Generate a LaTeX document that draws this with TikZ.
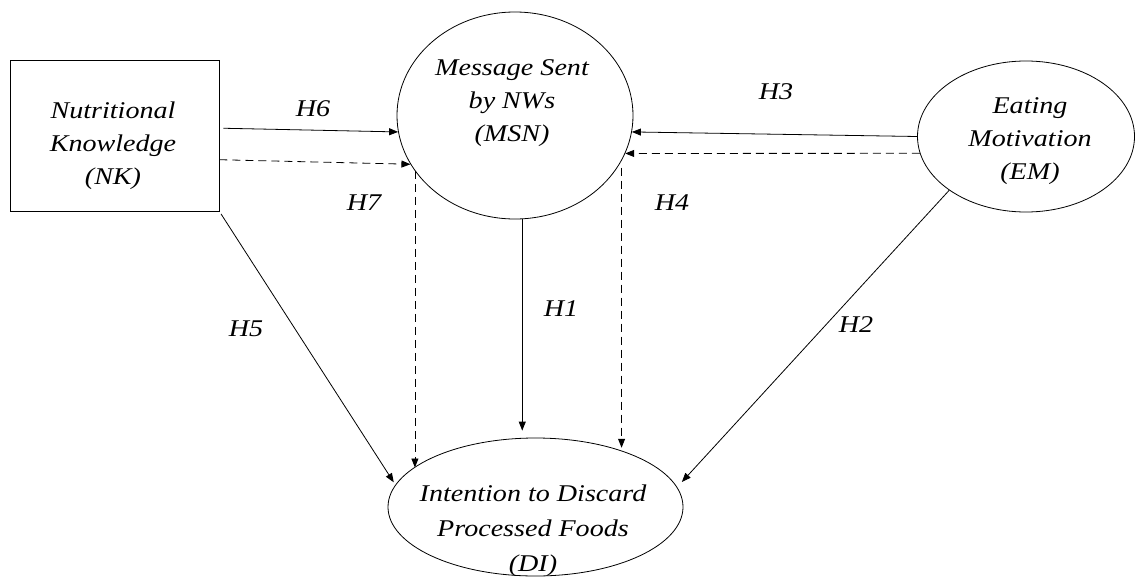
\documentclass[tikz,border=0pt]{standalone}
\usepackage{fontspec}
\setmainfont{Liberation Serif}[FakeStretch=1.17]
\usetikzlibrary{arrows.meta,shapes.geometric}

\begin{document}
\begin{tikzpicture}[x=1pt,y=-1pt,
    line width=0.8pt,
    box/.style={draw,rectangle,inner sep=0pt},
    oval/.style={draw,ellipse,inner sep=0pt},
    txt/.style={align=center,font=\itshape\fontsize{24}{33}\selectfont},
    hyp/.style={font=\itshape\fontsize{24}{29}\selectfont},
    arr/.style={-{Triangle[length=9pt,width=7pt]}},
    dsh/.style={arr,dash pattern=on 8pt off 5pt}]
    \useasboundingbox (0,0) rectangle (1135,576);

    % The four constructs: NK is a box, the others are ovals
    \node[box,minimum width=209pt,minimum height=151pt] (nk) at (114.5,135.5) {};
    \node[oval,minimum width=236pt,minimum height=207pt] (msn) at (515,115.5) {};
    \node[oval,minimum width=217pt,minimum height=151pt] (em) at (1026,136.5) {};
    \node[oval,minimum width=295pt,minimum height=138pt] (di) at (535.5,507) {};

    % Their texts, a little off the centre of each shape
    \node[txt] (nktxt) at (113,146) {Nutritional\\Knowledge\\(NK)};
    \node[txt] (msntxt) at (512,103) {Message Sent\\by NWs\\(MSN)};
    \node[txt] (emtxt) at (1030,141) {Eating\\Motivation\\(EM)};
    \node[txt,font=\itshape\fontsize{24}{35}\selectfont] (ditxt) at (533,531)
        {Intention to Discard\\Processed Foods\\(DI)};

    % Direct paths (solid)
    \draw[arr,shorten <=4pt] (nk.4) -- (msn.188);
    \draw[arr] (em.west) -- (msn.-8);
    \draw[arr,shorten >=7pt] (msn.-86) -- (msn.-86 |- di.north);
    \draw[arr,shorten >=7pt] (em.215) -- (di.8);
    \draw[arr,shorten <=3pt,shorten >=3pt] (nk.south east) -- (di.171);

    % Mediated paths (dashed)
    \draw[dsh] (nk.-13) -- (msn.205);
    \draw[dsh] (msn.209) -- (msn.209 |- di.162);
    \draw[dsh] (em.189) -- (msn.-19);
    \draw[dsh,shorten <=7pt,shorten >=3pt] (msn.-23) -- (msn.-23 |- di.33);

    % Hypothesis labels
    \node[hyp] (h1) at (561,309) {H1};
    \node[hyp] (h2) at (856,325) {H2};
    \node[hyp] (h3) at (776,92) {H3};
    \node[hyp] (h4) at (672,203) {H4};
    \node[hyp] (h5) at (246,329) {H5};
    \node[hyp] (h6) at (313,109) {H6};
    \node[hyp] (h7) at (364,203) {H7};
\end{tikzpicture}
\end{document}
